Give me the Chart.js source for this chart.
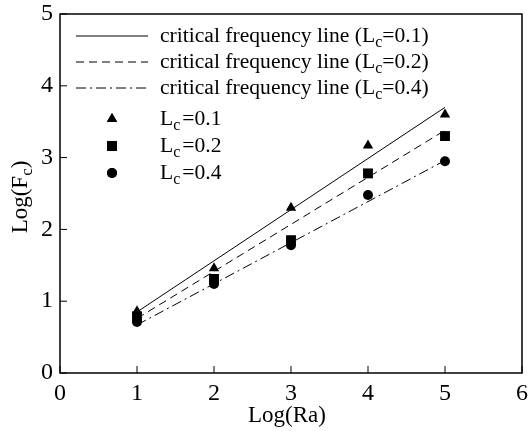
<!DOCTYPE html>
<html>
<head>
<meta charset="utf-8">
<script src="https://cdn.jsdelivr.net/npm/chart.js@4.4.0/dist/chart.umd.min.js"></script>
<style>
  html, body { margin: 0; padding: 0; background: #fff; }
  #wrap { width: 529px; height: 431px; }
</style>
</head>
<body>
<div id="wrap"><canvas id="chart"></canvas></div>
<script>
// ---- data ----
const logRa = [1, 2, 3, 4, 5];
const fc01 = [0.86, 1.46, 2.30, 3.17, 3.60];
const fc02 = [0.79, 1.31, 1.85, 2.78, 3.30];
const fc04 = [0.71, 1.24, 1.78, 2.48, 2.95];

// critical frequency lines (end points)
const lineX = [1, 5];
const line01 = [0.85, 3.70];
const line02 = [0.76, 3.38];
const line04 = [0.67, 2.96];

// labels split as [before, subscript, after]
const legendLabels = [
    ['critical frequency line (L', 'c', '=0.1)'],
    ['critical frequency line (L', 'c', '=0.2)'],
    ['critical frequency line (L', 'c', '=0.4)'],
    ['L', 'c', '=0.1'],
    ['L', 'c', '=0.2'],
    ['L', 'c', '=0.4']
];
const xTitle = ['Log(Ra)', '', ''];
const yTitle = ['Log(F', 'c', ')'];

const FONT = '"Liberation Serif", "Times New Roman", serif';

function pts(xs, ys) {
    return xs.map((x, i) => ({ x: x, y: ys[i] }));
}

function drawSub(ctx, x, y, parts, size, align, gap) {
    const subSize = Math.round(size * 0.72);
    gap = gap || 0;
    ctx.font = size + 'px ' + FONT;
    const w0 = ctx.measureText(parts[0]).width;
    const w2 = ctx.measureText(parts[2]).width;
    ctx.font = subSize + 'px ' + FONT;
    const w1 = ctx.measureText(parts[1]).width + gap;
    let sx = x;
    if (align === 'center') sx = x - (w0 + w1 + w2) / 2;
    ctx.textBaseline = 'middle';
    ctx.textAlign = 'left';
    ctx.font = size + 'px ' + FONT;
    ctx.fillText(parts[0], sx, y);
    ctx.font = subSize + 'px ' + FONT;
    ctx.fillText(parts[1], sx + w0, y + size * 0.3);
    ctx.font = size + 'px ' + FONT;
    ctx.fillText(parts[2], sx + w0 + w1, y);
}

const decor = {
    id: 'decor',
    afterDraw(chart) {
        const ctx = chart.ctx;
        const a = chart.chartArea;
        const xs = chart.scales.x, ys = chart.scales.y;
        ctx.save();
        ctx.fillStyle = '#000';
        ctx.strokeStyle = '#000';

        // frame
        ctx.lineWidth = 1.5;
        ctx.strokeRect(a.left, a.top, a.right - a.left, a.bottom - a.top);

        // inward ticks
        ctx.lineWidth = 1;
        ctx.beginPath();
        xs.ticks.forEach(t => {
            const p = xs.getPixelForValue(t.value);
            ctx.moveTo(p, a.bottom);
            ctx.lineTo(p, a.bottom - 7);
        });
        ys.ticks.forEach(t => {
            const p = ys.getPixelForValue(t.value);
            ctx.moveTo(a.left, p);
            ctx.lineTo(a.left + 7, p);
        });
        ctx.stroke();

        // axis titles
        drawSub(ctx, 287, 416, xTitle, 23, 'center');
        ctx.save();
        ctx.translate(21, 197);
        ctx.rotate(-Math.PI / 2);
        drawSub(ctx, 0, 0, yTitle, 23, 'center');
        ctx.restore();

        // legend
        const rowY = [36, 62, 88, 119, 146, 173];
        chart.data.datasets.forEach((ds, i) => {
            const y = rowY[i];
            if (ds.showLine) {
                ctx.beginPath();
                ctx.lineWidth = ds.borderWidth;
                ctx.setLineDash(ds.borderDash || []);
                ctx.moveTo(76, y);
                ctx.lineTo(148, y);
                ctx.stroke();
                ctx.setLineDash([]);
            } else {
                Chart.helpers.drawPoint(ctx, {
                    pointStyle: ds.pointStyle,
                    radius: ds.pointRadius,
                    borderWidth: 0
                }, 112, y);
                ctx.fill();
            }
            drawSub(ctx, 160, y, legendLabels[i], 21.6, 'left', ds.showLine ? 0 : 2);
        });
        ctx.restore();
    }
};

function lineSet(label, data, dash) {
    return {
        label: label,
        data: data,
        showLine: true,
        borderColor: '#000',
        borderWidth: 1,
        borderDash: dash,
        pointRadius: 0,
        fill: false
    };
}

function markerSet(label, data, style, r) {
    return {
        label: label,
        data: data,
        showLine: false,
        pointStyle: style,
        pointRadius: r,
        pointHoverRadius: r,
        backgroundColor: '#000',
        borderColor: '#000',
        borderWidth: 0
    };
}

new Chart(document.getElementById('chart'), {
    type: 'scatter',
    data: {
        datasets: [
            lineSet('line 0.1', pts(lineX, line01), []),
            lineSet('line 0.2', pts(lineX, line02), [8, 5]),
            lineSet('line 0.4', pts(lineX, line04), [10, 4, 2, 4]),
            markerSet('Lc=0.1', pts(logRa, fc01), 'triangle', 6),
            markerSet('Lc=0.2', pts(logRa, fc02), 'rect', 7),
            markerSet('Lc=0.4', pts(logRa, fc04), 'circle', 5)
        ]
    },
    options: {
        responsive: true,
        maintainAspectRatio: false,
        animation: false,
        layout: { padding: { top: 14, right: 6, left: 0, bottom: 0 } },
        plugins: {
            legend: { display: false },
            tooltip: { enabled: false }
        },
        scales: {
            x: {
                type: 'linear',
                min: 0, max: 6,
                afterFit: s => { s.height = 58; s.paddingLeft = 0; s.paddingRight = 0; },
                grid: { display: false, drawTicks: false },
                border: { display: false },
                ticks: {
                    stepSize: 1,
                    padding: 6,
                    color: '#000',
                    font: { family: FONT, size: 24 }
                }
            },
            y: {
                type: 'linear',
                min: 0, max: 5,
                afterFit: s => { s.width = 60; s.paddingTop = 0; s.paddingBottom = 0; },
                grid: { display: false, drawTicks: false },
                border: { display: false },
                ticks: {
                    stepSize: 1,
                    padding: 7,
                    color: '#000',
                    font: { family: FONT, size: 24 }
                }
            }
        }
    },
    plugins: [decor]
});
</script>
</body>
</html>
